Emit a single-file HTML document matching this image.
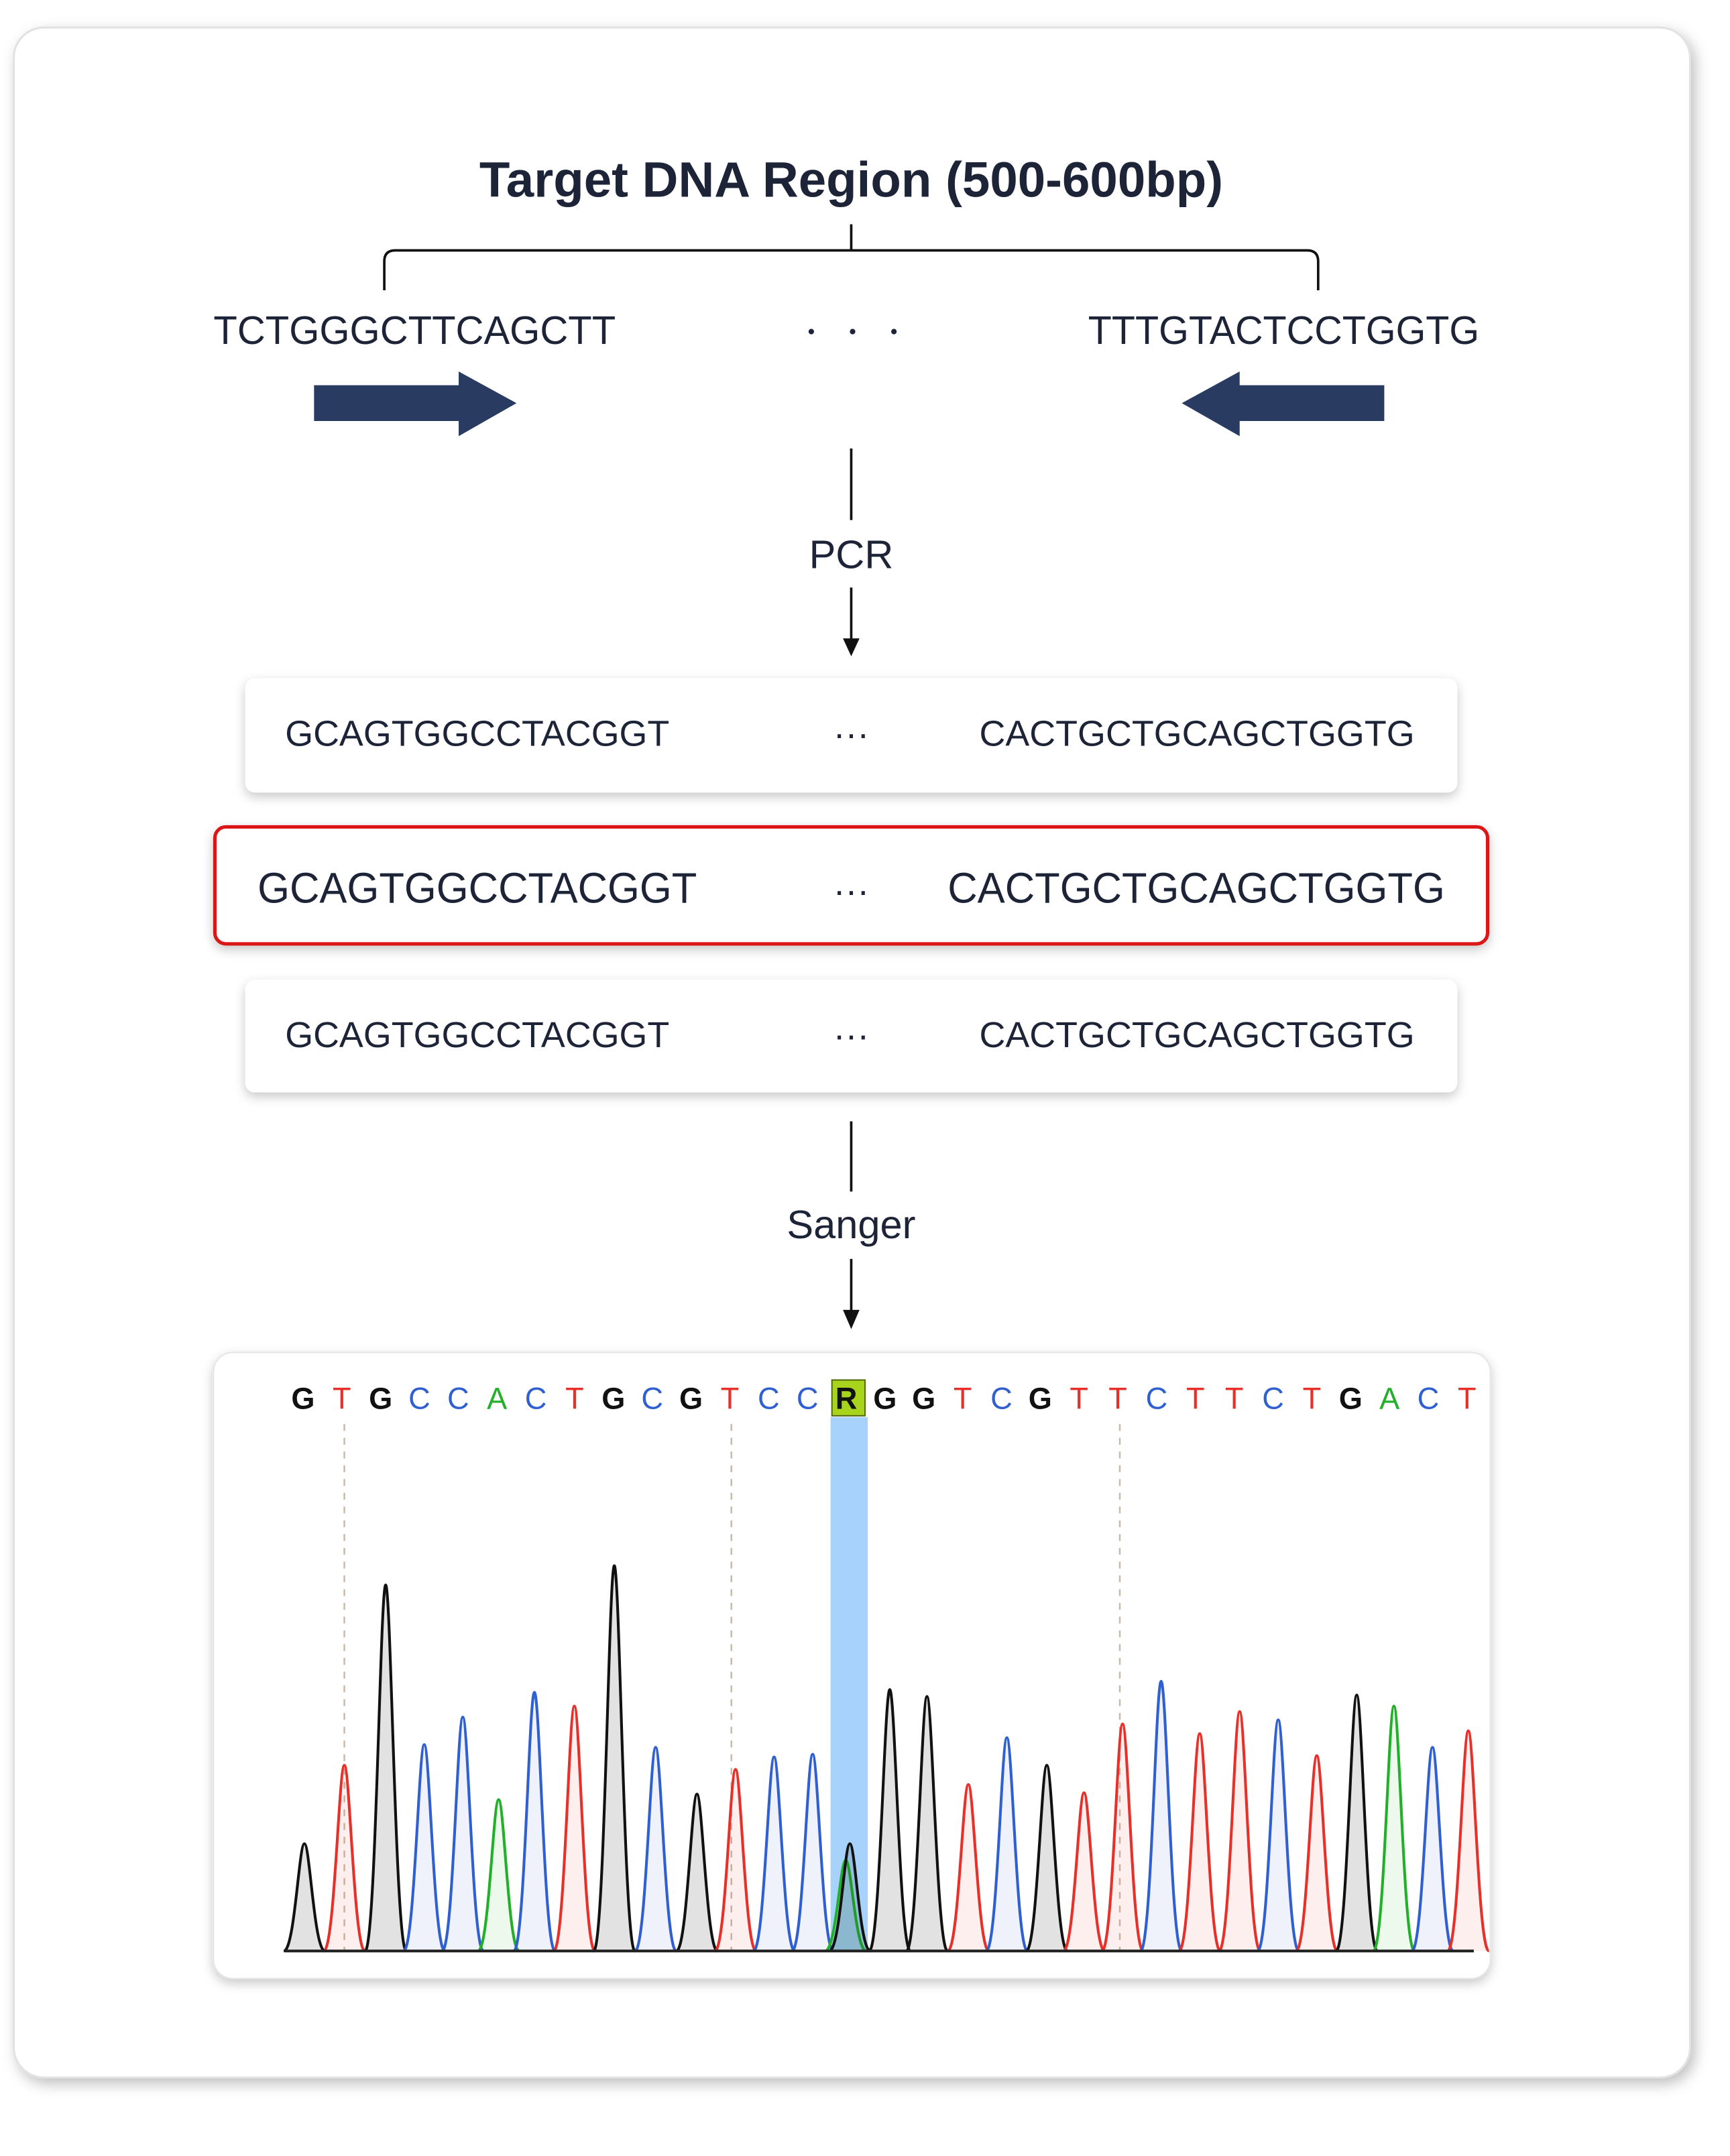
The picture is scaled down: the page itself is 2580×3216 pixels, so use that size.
<!DOCTYPE html>
<html><head><meta charset="utf-8"><style>
html,body{margin:0;padding:0;background:#fff;width:2580px;height:3216px;overflow:hidden}
svg{display:block}
text{font-family:"Liberation Sans",sans-serif;fill:#1e2438}
</style></head><body>
<svg width="2580" height="3216" viewBox="0 0 1256 1567" preserveAspectRatio="none" xmlns="http://www.w3.org/2000/svg">
<defs>
<filter id="sh" x="-10%" y="-10%" width="120%" height="130%"><feDropShadow dx="0" dy="3" stdDeviation="4" flood-color="#000" flood-opacity="0.22"/></filter>
<filter id="sh2" x="-5%" y="-5%" width="110%" height="110%"><feDropShadow dx="3" dy="4" stdDeviation="5" flood-color="#000" flood-opacity="0.25"/></filter>
</defs>
<rect x="10" y="20" width="1217" height="1490" rx="22" fill="#fff" stroke="#e2e2e2" stroke-width="1.5" filter="url(#sh2)"/>
<text x="618" y="143" font-size="36" font-weight="bold" text-anchor="middle" textLength="540" lengthAdjust="spacingAndGlyphs">Target DNA Region (500-600bp)</text>
<path d="M618 163V182M279 211V190Q279 182 287 182H949Q957 182 957 190V211" fill="none" stroke="#111" stroke-width="1.8"/>
<text x="155" y="250" font-size="29" textLength="292" lengthAdjust="spacingAndGlyphs">TCTGGGCTTCAGCTT</text>
<text x="790" y="250" font-size="29" textLength="284" lengthAdjust="spacingAndGlyphs">TTTGTACTCCTGGTG</text>
<circle cx="589" cy="241" r="2" fill="#1e2438"/><circle cx="619" cy="241" r="2" fill="#1e2438"/><circle cx="649" cy="241" r="2" fill="#1e2438"/>
<path d="M228 280H333V270L375 293L333 317V306H228Z" fill="#2a3b62"/>
<path d="M1005 280H900V270L858 293L900 317V306H1005Z" fill="#2a3b62"/>
<path d="M618 326V378M618 427V465" stroke="#111" stroke-width="1.8"/>
<path d="M612 464L618 477L624 464Z" fill="#111"/>
<text x="618" y="413" font-size="29" text-anchor="middle">PCR</text>
<rect x="178" y="493" width="880" height="83" rx="7" fill="#fff" filter="url(#sh)"/>
<text x="207" y="542" font-size="26" textLength="279" lengthAdjust="spacingAndGlyphs">GCAGTGGCCTACGGT</text>
<text x="618" y="542" font-size="26" text-anchor="middle">···</text>
<text x="711" y="542" font-size="26" textLength="316" lengthAdjust="spacingAndGlyphs">CACTGCTGCAGCTGGTG</text>
<rect x="156" y="601" width="924" height="85" rx="8" fill="#fff" stroke="#dc1419" stroke-width="2.5" filter="url(#sh)"/>
<text x="187" y="656" font-size="31" textLength="319" lengthAdjust="spacingAndGlyphs">GCAGTGGCCTACGGT</text>
<text x="618" y="656" font-size="26" text-anchor="middle">···</text>
<text x="688" y="656" font-size="31" textLength="361" lengthAdjust="spacingAndGlyphs">CACTGCTGCAGCTGGTG</text>
<rect x="178" y="712" width="880" height="82" rx="7" fill="#fff" filter="url(#sh)"/>
<text x="207" y="761" font-size="26" textLength="279" lengthAdjust="spacingAndGlyphs">GCAGTGGCCTACGGT</text>
<text x="618" y="761" font-size="26" text-anchor="middle">···</text>
<text x="711" y="761" font-size="26" textLength="316" lengthAdjust="spacingAndGlyphs">CACTGCTGCAGCTGGTG</text>
<path d="M618 815V866M618 915V953" stroke="#111" stroke-width="1.8"/>
<path d="M612 952L618 966L624 952Z" fill="#111"/>
<text x="618" y="900" font-size="29" text-anchor="middle">Sanger</text>
<rect x="155" y="983" width="927" height="455" rx="14" fill="#fff" stroke="#e6e6e6" stroke-width="1" filter="url(#sh)"/>
<rect x="603" y="1030" width="27" height="388" fill="#a7d2fb"/>
<rect x="604" y="1003" width="24" height="26" fill="#a8d41e" stroke="#556b10" stroke-width="1"/>
<g stroke="#c9b9a8" stroke-width="1.2" stroke-dasharray="5,5"><path d="M250 1035V1418M531 1035V1418M813 1035V1418"/></g>
<g id="peaks" stroke-width="2"></g>
<path d="M207 1418H1070" stroke="#222" stroke-width="2"/>
<g id="bases" font-size="22"></g>
</svg>
<script>
var ns="http://www.w3.org/2000/svg";
var col={k:"#111",r:"#e8302a",b:"#2f5fd0",g:"#22b02a"};
var P=[[221,'k',1340],[250,'r',1283],[280,'k',1152],[308,'b',1268],[336,'b',1248],[362,'g',1308],[388,'b',1230],[417,'r',1240],[446,'k',1138],[476,'b',1270],[506,'k',1304],[534,'r',1286],[562,'b',1277],[590,'b',1275],[614,'g',1352],[617,'k',1340],[646,'k',1228],[673,'k',1233],[703,'r',1297],[731,'b',1263],[760,'k',1283],[787,'r',1303],[815,'r',1253],[843,'b',1222],[871,'r',1260],[900,'r',1244],[928,'b',1250],[956,'r',1276],[985,'k',1232],[1012,'g',1240],[1040,'b',1270],[1066,'r',1258]];
var g=document.getElementById("peaks");
P.forEach(function(p){var x=p[0],t=p[2],c=col[p[1]];var e=document.createElementNS(ns,"path");
e.setAttribute("d","M"+(x-15)+" 1418C"+(x-7)+" 1418 "+(x-4)+" "+t+" "+x+" "+t+"C"+(x+4)+" "+t+" "+(x+7)+" 1418 "+(x+15)+" 1418");
e.setAttribute("stroke",c);e.setAttribute("fill",c);e.setAttribute("fill-opacity",p[1]=='k'?"0.12":"0.08");g.appendChild(e);});
var s="GTGCCACTGCGTCCRGGTCGTTCTTCTGACT",bc={G:"#111",T:"#e8302a",C:"#2f5fd0",A:"#22b02a",R:"#111"};
var b=document.getElementById("bases");
for(var i=0;i<s.length;i++){var t=document.createElementNS(ns,"text");t.setAttribute("x",220+i*28.17);t.setAttribute("y",1024);t.setAttribute("text-anchor","middle");t.setAttribute("style","fill:"+bc[s[i]]);if(s[i]=="R"||s[i]=="G")t.setAttribute("font-weight","bold");t.textContent=s[i];b.appendChild(t);}
</script>
</body></html>
